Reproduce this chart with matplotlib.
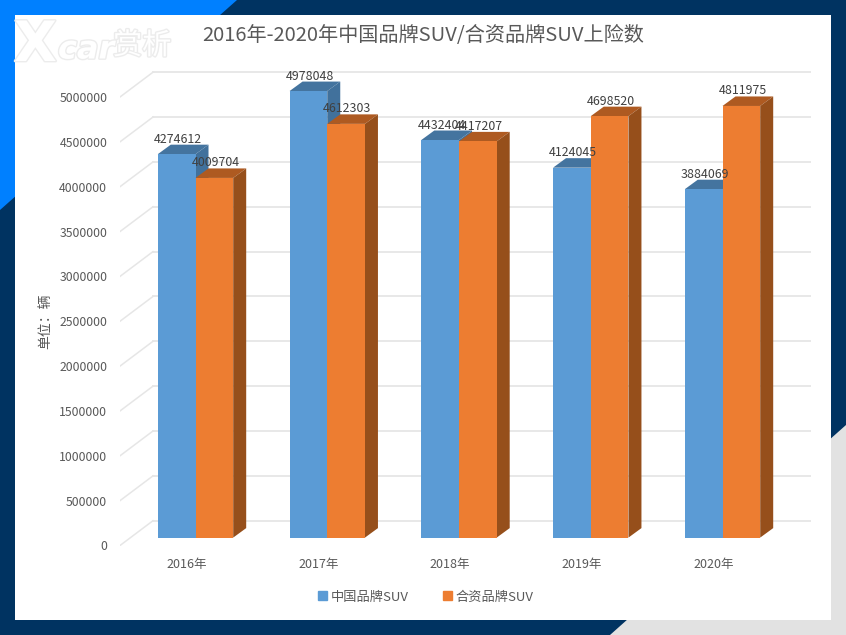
import numpy as np
import matplotlib
matplotlib.use("Agg")
import matplotlib.pyplot as plt
import matplotlib.patheffects as pe
from matplotlib.patches import Patch, Polygon, Rectangle

plt.rcParams['font.family'] = ['Noto Sans CJK SC', 'DejaVu Sans']

# Data
years = ['2016年', '2017年', '2018年', '2019年', '2020年']
china_suv = [4274612, 4978048, 4432404, 4124045, 3884069]
joint_suv = [4009704, 4612303, 4417207, 4698520, 4811975]
y_ticks = [0, 500000, 1000000, 1500000, 2000000, 2500000,
           3000000, 3500000, 4000000, 4500000, 5000000]

# Colours
NAVY = '#003361'
BRIGHT = '#0080ff'
PALE = '#e2e2e2'
GRID = '#e6e6e6'
BLUE = ('#5b9bd5', '#44749f', '#41719c')
ORANGE = ('#ed7d31', '#ae5a21', '#964f1b')

W, H = 846, 635
fig = plt.figure(figsize=(W / 100, H / 100), dpi=100)

# Frame behind the chart, in pixels
bg = fig.add_axes([0, 0, 1, 1])
bg.set_xlim(0, W)
bg.set_ylim(H, 0)
bg.axis('off')
bg.add_patch(Rectangle((0, 0), W, H, color=NAVY, lw=0))
bg.add_patch(Polygon([(0, 0), (237, 0), (0, 210)], color=BRIGHT, lw=0))
bg.add_patch(Polygon([(846, 425), (846, 635), (610, 635)], color=PALE, lw=0))
bg.add_patch(Rectangle((15, 15), 816, 605, color='white', lw=0))

# Watermark
halo = [pe.withStroke(linewidth=2, foreground='#ececec')]
bg.text(14, 46, 'X', fontsize=40, fontweight='bold', color='white', va='center',
        family='DejaVu Sans', path_effects=halo)
bg.text(58, 50, 'car', fontsize=23, fontweight='bold', style='italic', color='white',
        va='center', family='DejaVu Sans', path_effects=halo)
bg.text(113, 46, '赏析', fontsize=21, color='white', va='center', path_effects=halo)

# Main axes: pixel box 120..811, 60..545.5
ax = fig.add_axes([120 / W, 1 - 545.5 / H, 691 / W, 485.5 / H])
ax.patch.set_alpha(0)
px_x = 131.75           # px per category
px_y = 8.97e-5          # px per unit
ax.set_xlim((120 - 195.5) / px_x, (811 - 195.5) / px_x)
ax.set_ylim(-7.9 / px_y, 477.6 / px_y)
for s in ax.spines.values():
    s.set_visible(False)

bar_w = 37.7 / px_x
depth_x = 13 / px_x
depth_y = 9.5 / px_y
wall_x = 33 / px_x
wall_y = 16.9 / px_y
tick_drop = 7.9 / px_y
x = np.arange(len(years))

# Gridlines on the back wall and the floor side
wall_left = ax.get_xlim()[0] + wall_x
for v in y_ticks:
    ax.plot([wall_left, ax.get_xlim()[1]], [v + wall_y, v + wall_y], color=GRID, lw=1.3, zorder=1)
    ax.plot([ax.get_xlim()[0], wall_left], [v - tick_drop, v + wall_y], color=GRID, lw=1.1, zorder=1)


def draw_column(left, value, colors, z):
    right = left + bar_w
    ax.bar(left, value, bar_w, align='edge', color=colors[0], lw=0, zorder=z + 0.2)
    ax.add_patch(Polygon([(left, value), (right, value),
                          (right + depth_x, value + depth_y), (left + depth_x, value + depth_y)],
                         color=colors[1], lw=0, zorder=z))
    ax.add_patch(Polygon([(right, 0), (right + depth_x, depth_y),
                          (right + depth_x, value + depth_y), (right, value)],
                         color=colors[2], lw=0, zorder=z))


for i in x:
    draw_column(i - bar_w, china_suv[i], BLUE, 2)
    draw_column(i, joint_suv[i], ORANGE, 3)
    ax.text(i - bar_w / 2 + 0.01, china_suv[i] + 15 / px_y, str(china_suv[i]), ha='center', va='center',
            fontsize=8.9, color='#404040', zorder=5)
    ax.text(i + bar_w / 2 + 0.01, joint_suv[i] + 15 / px_y, str(joint_suv[i]), ha='center', va='center',
            fontsize=8.9, color='#404040', zorder=5)

# Axis labels
ax.set_yticks([v - tick_drop for v in y_ticks], [str(v) for v in y_ticks])
ax.set_xticks(x - 9 / px_x, years)
ax.tick_params(axis='y', length=0, pad=9.2, labelsize=8.8, labelcolor='#595959')
ax.tick_params(axis='x', length=0, pad=9, labelsize=9, labelcolor='#595959')

fig.text(45 / W, 1 - 321 / H, '单位：辆', rotation=90, ha='center', va='center',
         fontsize=10, color='#595959')
fig.text(423 / W, 1 - 35 / H, '2016年-2020年中国品牌SUV/合资品牌SUV上险数', ha='center', va='center',
         fontsize=14.5, color='#595959')

handles = [Patch(color=BLUE[0], label='中国品牌SUV'), Patch(color=ORANGE[0], label='合资品牌SUV')]
fig.legend(handles=handles, loc='center', bbox_to_anchor=(426 / W, 1 - 597 / H), ncol=2, frameon=False,
           fontsize=9.5, labelcolor='#595959', handlelength=0.65, handleheight=0.65,
           handletextpad=0.3, columnspacing=2.6)

fig.savefig('out.png', dpi=100)
